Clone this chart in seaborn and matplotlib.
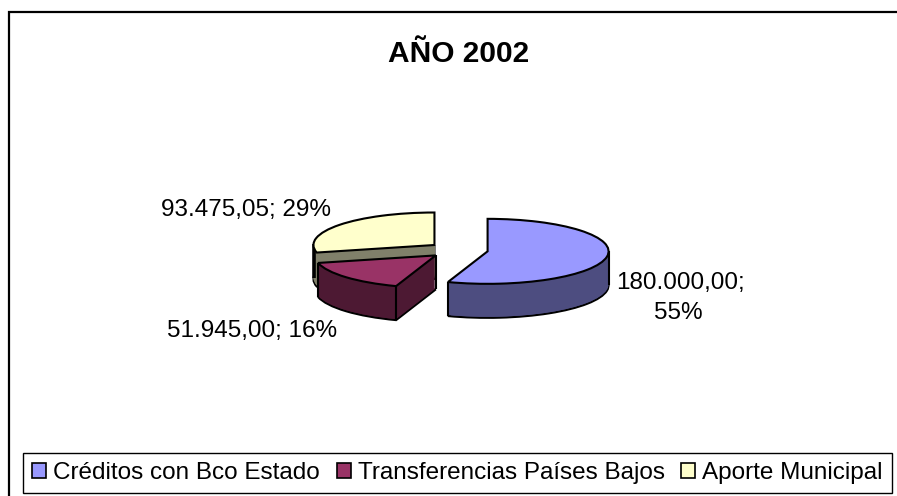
#!/usr/bin/env python
"""Excel style 3D pie, AÑO 2002: stacked seaborn-themed pies give the depth."""
import matplotlib
matplotlib.use("Agg")
import matplotlib.pyplot as plt
import numpy as np
import seaborn as sns
from matplotlib.patches import Rectangle

CATEGORIES = ["Créditos con Bco Estado", "Transferencias Países Bajos", "Aporte Municipal"]
VALUES = [180000.00, 51945.00, 93475.05]
LABELS = ["180.000,00;\n55%", "51.945,00; 16%", "93.475,05; 29%"]
TOP_COLORS = ["#9999ff", "#993366", "#ffffcc"]
SIDE_COLORS = ["#4d4d80", "#4d1933", "#80806a"]
TITLE = "AÑO 2002"

W, H = 897, 496
RX, RY, DEPTH = 121, 32.5, 34
CX, CY = 458, 250
EXPLODE = [30, 30, 30]   # pie() adds this in data units, not as a radius fraction
STACK_Z = [3, 4, 2]      # yellow at the back, then maroon, blue in front
K = RY / RX


def py(y):
    return (H - y) / K


sns.set_theme(style="white")
plt.rcParams["font.family"] = ["Liberation Sans", "DejaVu Sans"]

fig = plt.figure(figsize=(W / 100, H / 100), dpi=100)
ax = fig.add_axes([0, 0, 1, 1])

top = None
for d in np.arange(DEPTH, -1, -1.0):
    wedges, _ = ax.pie(VALUES, explode=EXPLODE, startangle=90, counterclock=False,
                       center=(CX, py(CY + d)), radius=RX,
                       colors=TOP_COLORS if d == 0 else SIDE_COLORS,
                       wedgeprops={"linewidth": 1.5 if d in (0, DEPTH) else 0,
                                   "edgecolor": "black"})
    for w, z in zip(wedges, STACK_Z):
        w.set_zorder(z + (DEPTH - d) / 100 + (0.5 if d == 0 else 0))
    top = wedges

ax.set_aspect("auto")
ax.set_xlim(0, W)
ax.set_ylim(0, H / K)


def drop_line(wedge, angle, z, lw=1.5):
    """vertical edge of the extruded slice at a wedge angle"""
    x = wedge.center[0] + (RX * np.cos(np.radians(angle)) if angle is not None else 0)
    y = wedge.center[1] + (RX * np.sin(np.radians(angle)) if angle is not None else 0)
    ax.plot([x, x], [y, y - DEPTH / K], color="black", lw=lw, zorder=z, solid_capstyle="butt")


blue, maroon, yellow = top
drop_line(blue, blue.theta1, 3.6)
drop_line(blue, 0, 3.6)
drop_line(maroon, maroon.theta2, 4.6)
drop_line(maroon, maroon.theta1, 4.6)
drop_line(maroon, None, 4.6)
drop_line(yellow, 178, 2.6, lw=2.6)   # the outer side of this slice reads as black

first, second = LABELS[0].split("\n")
ax.text(616, py(283), first, fontsize=17.5, ha="left", va="center", color="black", zorder=9)
ax.text(678, py(313), second, fontsize=17.5, ha="center", va="center", color="black", zorder=9)
ax.text(252, py(331), LABELS[1], fontsize=17.5, ha="center", va="center", color="black", zorder=9)
ax.text(246, py(210), LABELS[2], fontsize=17.5, ha="center", va="center", color="black", zorder=9)
ax.text(459, py(54), TITLE, fontsize=21.5, fontweight="bold", ha="center", va="center", color="black", zorder=9)

# chart frame, right and bottom edges fall outside the crop
ax.add_patch(Rectangle((8.5, py(510)), 900, (510 - 12) / K, fill=False, ec="black", lw=1.6, zorder=1))

legend = ax.legend(handles=[plt.Rectangle((0, 0), 1, 1, fc=c, ec="black", lw=1.2) for c in TOP_COLORS],
                   labels=CATEGORIES, loc="lower left", ncol=3,
                   bbox_to_anchor=(23 / W, (H - 493) / H), fontsize=17.5, labelcolor="black",
                   frameon=True, fancybox=False,
                   edgecolor="black", framealpha=1, handlelength=0.58, handleheight=0.58,
                   handletextpad=0.29, columnspacing=0.68, borderpad=0.38, borderaxespad=0)
legend.get_frame().set_linewidth(1.0)
legend.set_zorder(10)

fig.savefig("out.png", dpi=100)
plt.close(fig)
